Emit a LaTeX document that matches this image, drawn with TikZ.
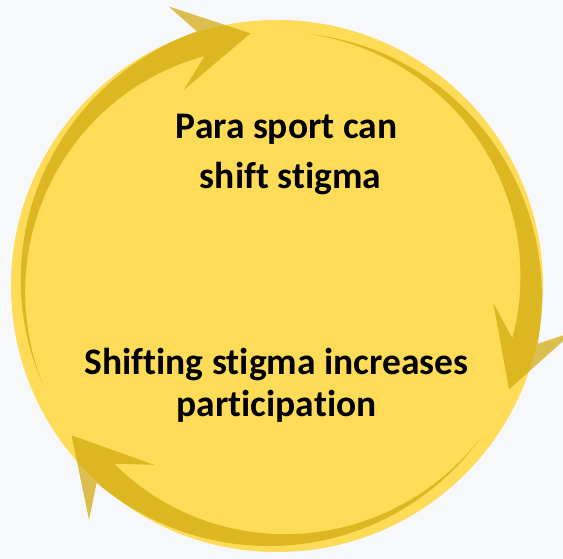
\documentclass[tikz,border=0pt]{standalone}
\usepackage{fontspec}
\setmainfont{Carlito}[Ligatures=NoCommon]
\definecolor{bgcol}{RGB}{247,248,250}
\definecolor{disc}{RGB}{254,220,88}
\definecolor{goldarrow}{RGB}{208,170,12}
\tikzset{
  lbl/.style={font=\fontsize{37.5}{44}\selectfont\bfseries, text=black, inner sep=0pt, anchor=base},
  arrowfill/.style={fill=goldarrow, fill opacity=0.72},
}
\begin{document}
\begin{tikzpicture}[x=1pt,y=1pt]
\clip (-277,-273) rectangle (286,286);
\fill[bgcol] (-277,-273) rectangle (286,286);
\fill[disc] (0,0) circle (266);
\foreach \t in {96,-24,-144} {
  \pgfmathsetmacro\T{\t+107}
  \pgfmathsetmacro\B{\t+11.5}
  \fill[arrowfill]
    plot[variable=\a, domain=\T:\B, samples=60]
      (\a:{254+13*((\T-\a)/95.5)*(0.6+0.4*(\T-\a)/95.5)})
    -- (\t+15.2:300) -- (\t:254) -- (\t+19.5:217) -- (\B:241)
    -- plot[variable=\a, domain=\B:\T, samples=60]
      (\a:{254-13*((\T-\a)/95.5)*(0.6+0.4*(\T-\a)/95.5)})
    -- cycle;
}
\node[lbl] (p1) at (9.5,147) {Para sport can};
\node[lbl] (p2) at (13.5,97) {shift stigma};
\node[lbl] (s1) at (-0.5,-89) {Shifting stigma increases};
\node[lbl] (s2) at (-0.5,-131) {participation};
\end{tikzpicture}
\end{document}
